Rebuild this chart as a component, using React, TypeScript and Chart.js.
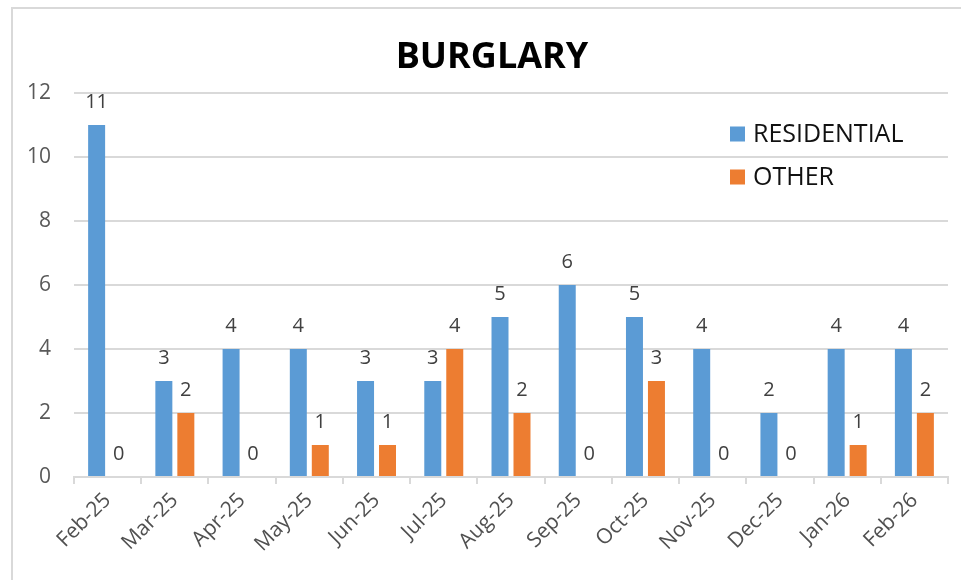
import React, { useEffect, useRef } from "react";
import { Chart, registerables } from "chart.js";

Chart.register(...registerables);

const categories = ["Feb-25", "Mar-25", "Apr-25", "May-25", "Jun-25", "Jul-25", "Aug-25", "Sep-25", "Oct-25", "Nov-25", "Dec-25", "Jan-26", "Feb-26"];
const residential = [11, 3, 4, 4, 3, 3, 5, 6, 5, 4, 2, 4, 4];
const other = [0, 2, 0, 1, 1, 4, 2, 0, 3, 0, 0, 1, 2];
const yTicks = [0, 2, 4, 6, 8, 10, 12];
const titleText = "BURGLARY";

const FONT = "'Open Sans', 'DejaVu Sans', sans-serif";

const framePlugin = {
  id: "frame",
  beforeDraw(chart: any) {
    const ctx = chart.ctx;
    ctx.save();
    ctx.fillStyle = "#ffffff";
    ctx.fillRect(0, 0, chart.width, chart.height);
    ctx.strokeStyle = "#d9d9d9";
    ctx.lineWidth = 2;
    ctx.beginPath();
    ctx.moveTo(12, chart.height + 5);
    ctx.lineTo(12, 8);
    ctx.lineTo(chart.width + 5, 8);
    ctx.stroke();
    ctx.font = `bold 36px ${FONT}`;
    ctx.fillStyle = "#000000";
    ctx.textAlign = "center";
    ctx.textBaseline = "alphabetic";
    ctx.fillText(titleText, 492, 68);
    ctx.restore();
  },
};

const labelsPlugin = {
  id: "valueLabels",
  afterDatasetsDraw(chart: any) {
    const ctx = chart.ctx;
    ctx.save();
    ctx.font = `20px ${FONT}`;
    ctx.fillStyle = "#404040";
    ctx.textAlign = "center";
    ctx.textBaseline = "alphabetic";
    chart.data.datasets.forEach((ds: any, i: number) => {
      const meta = chart.getDatasetMeta(i);
      meta.data.forEach((bar: any, j: number) => {
        ctx.fillText(String(ds.data[j]), bar.x, bar.y - 17);
      });
    });
    ctx.restore();
  },
};

const legendPlugin = {
  id: "customLegend",
  afterDraw(chart: any) {
    const ctx = chart.ctx;
    ctx.save();
    ctx.font = `25px ${FONT}`;
    ctx.textAlign = "left";
    ctx.textBaseline = "middle";
    chart.data.datasets.forEach((ds: any, i: number) => {
      const cy = 134 + i * 43;
      ctx.fillStyle = ds.backgroundColor;
      ctx.fillRect(730, cy - 7.5, 15, 15);
      ctx.fillStyle = "#111111";
      ctx.fillText(ds.label, 753, cy + 1);
    });
    ctx.restore();
  },
};

export default function App() {
  const ref = useRef<HTMLCanvasElement>(null);
  useEffect(() => {
    if (!ref.current) return;
    const chart = new Chart(ref.current, {
      type: "bar",
      data: {
        labels: categories,
        datasets: [
          { label: "RESIDENTIAL", data: residential, backgroundColor: "#5B9BD5" },
          { label: "OTHER", data: other, backgroundColor: "#ED7D31" },
        ],
      },
      options: {
        animation: false,
        responsive: false,
        devicePixelRatio: 1,
        datasets: { bar: { categoryPercentage: 0.654, barPercentage: 0.773 } },
        layout: { padding: { left: 0, right: 13, top: 93, bottom: 0 } },
        plugins: {
          legend: { display: false },
          tooltip: { enabled: false },
          title: { display: false },
        },
        scales: {
          x: {
            grid: { display: true, drawOnChartArea: false, drawTicks: true, tickLength: 7, color: "#d9d9d9", lineWidth: 2, offset: true },
            border: { display: true, color: "#d9d9d9", width: 2 },
            ticks: { color: "#505050", font: { family: FONT, size: 21 }, minRotation: 45, maxRotation: 45, padding: 4, autoSkip: false },
            afterFit(scale: any) { scale.height = 103; },
          },
          y: {
            min: 0,
            max: 12,
            afterBuildTicks(scale: any) { scale.ticks = yTicks.map((v) => ({ value: v })); },
            grid: { color: "#d9d9d9", lineWidth: 2, drawTicks: false },
            border: { display: false },
            ticks: { color: "#595959", font: { family: FONT, size: 21 }, padding: 23 },
            afterFit(scale: any) { scale.width = 74; },
          },
        },
      },
      plugins: [framePlugin, labelsPlugin, legendPlugin],
    } as any);
    return () => chart.destroy();
  }, []);
  return (
    <div style={{ position: "absolute", left: 0, top: 0, width: 961, height: 580 }}>
      <canvas ref={ref} width={961} height={580} />
    </div>
  );
}
